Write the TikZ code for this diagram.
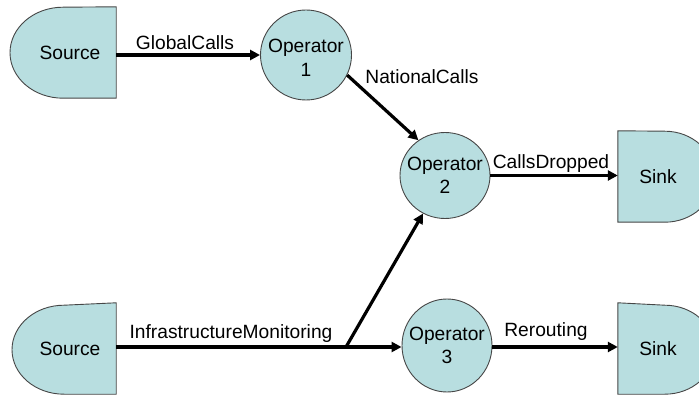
\documentclass[tikz,border=0pt]{standalone}
\usepackage{fontspec}
\setmainfont{Liberation Sans}
\usetikzlibrary{arrows.meta,shapes.geometric,backgrounds}
\definecolor{shapefill}{RGB}{184,222,224}
\definecolor{shapeline}{RGB}{70,70,70}
\begin{document}
\begin{tikzpicture}[x=1pt,y=1pt,
  every node/.style={font=\fontsize{19.2}{23.5}\selectfont},
  flow/.style={line width=3.2pt,-{Triangle[length=10pt,width=10pt]}},
  plain/.style={line width=3.2pt},
  opnode/.style={ellipse,draw=shapeline,fill=shapefill,line width=0.9pt,inner sep=0pt},
  optext/.style={inner sep=0pt,align=center},
  term/.style={rectangle,inner sep=0pt,minimum height=91pt},
  shapeborder/.style={draw=shapeline,fill=shapefill,line width=0.9pt},
  lbl/.style={inner sep=0pt,anchor=base}]
\useasboundingbox (0,0) rectangle (699,-395);

% sources and sinks (text nodes; their outlines are drawn behind them)
\node[term,minimum width=106pt] (src1) at (63,-52.5) {\hspace*{14pt}Source};
\node[term,minimum width=104pt] (src2) at (64,-348.5) {\hspace*{12pt}Source};
\node[term,minimum width=97pt] (sink1) at (666.5,-176.5) {Sink\hspace*{17pt}};
\node[term,minimum width=97pt] (sink2) at (666.5,-348.5) {Sink\hspace*{17pt}};

% operators
\node[opnode,minimum width=91pt,minimum height=90pt] (op1) at (306,-55) {};
\node[opnode,minimum width=90pt,minimum height=86pt] (op2) at (445,-175.5) {};
\node[opnode,minimum width=90pt,minimum height=93pt] (op3) at (447,-345.5) {};
\node[optext] (op1t) at ([yshift=-3pt]op1.center) {Operator\\1};
\node[optext] (op2t) at (op2.center) {Operator\\2};
\node[optext] (op3t) at (op3.center) {Operator\\3};

\begin{scope}[on background layer]
  \path[shapeborder] (src1.north east) -- (src1.south east) -- (src1.south)
    arc[start angle=-90,end angle=-270,x radius=53pt,y radius=45.5pt] -- cycle;
  \path[shapeborder] (src2.north east) -- (src2.south east) -- (src2.south)
    arc[start angle=-90,end angle=-270,x radius=52pt,y radius=44.5pt] -- cycle;
  \path[shapeborder] (sink1.north west) -- (sink1.south west) -- ++(47,0)
    arc[start angle=-90,end angle=90,x radius=50pt,y radius=45.5pt] -- cycle;
  \path[shapeborder] (sink2.north west) -- (sink2.south west) -- ++(47,0)
    arc[start angle=-90,end angle=90,x radius=50pt,y radius=44.5pt] -- cycle;
\end{scope}

% streams
\coordinate (split) at (346,-347);
\draw[flow] (src1.east |- op1.west) -- (op1.west);
\draw[flow] (op1.-26) -- (op2.127);
\draw[flow] (op2.east) -- (op2.east -| sink1.west);
\draw[plain] (src2.east |- split) -- (split);
\draw[flow] (split) -- (split -| op3.west);
\draw[flow] (split) -- (op2);
\draw[flow] (op3.east |- split) -- (split -| sink2.west);

% stream names
\node[lbl] (lglobal) at (185,-49.5) {GlobalCalls};
\node[lbl] (lnational) at (422,-83.5) {NationalCalls};
\node[lbl] (ldropped) at (551,-168.5) {CallsDropped};
\node[lbl] (linfra) at (231,-338.5) {InfrastructureMonitoring};
\node[lbl] (lrerouting) at (546,-336.5) {Rerouting};
\end{tikzpicture}
\end{document}
